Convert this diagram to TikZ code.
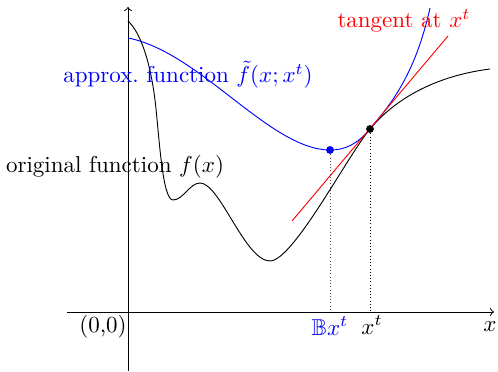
\documentclass[tikz,border=0pt]{standalone}
\usepackage{amssymb}
\begin{document}
\begin{tikzpicture}[x=0.435pt,y=-0.435pt,
  curve/.style={line width=0.4pt},
  lab/.style={inner sep=0pt}]
\useasboundingbox (0,0) rectangle (498,372);
% axes
\coordinate (xs) at (67,312);
\coordinate (xe) at (494,312);
\coordinate (ys) at (128,371);
\coordinate (ye) at (128,7);
\draw[->] (xs) -- (xe);
\draw[->] (ys) -- (ye);
% key points
\coordinate (P) at (370,129);
\coordinate (B) at (330,150);
% original function
\draw[curve,black] (128,21) .. controls (140,32) and (150,60) .. (155,100)
  .. controls (159,132) and (162,200) .. (173,200)
  .. controls (183,200) and (190,183) .. (200,183)
  .. controls (220,183) and (245,261) .. (270,261)
  .. controls (293,261) and (348,155) .. (P)
  .. controls (385,111) and (420,78) .. (490,69);
% approx function
\draw[curve,blue] (128,38) .. controls (200,52) and (270,150) .. (B)
  .. controls (345,150) and (357,144.5) .. (P)
  .. controls (390,105.2) and (415,75.5) .. (430,8);
% tangent
\coordinate (ta) at (292,221);
\coordinate (tb) at (448,36);
\draw[red] (ta) -- (tb);
% points
\node[circle,fill=black,inner sep=0pt,minimum size=3.4pt] (pt) at (P) {};
\node[circle,fill=blue,inner sep=0pt,minimum size=3.4pt] (pb) at (B) {};
\coordinate (ft) at (370,312);
\coordinate (fb) at (330,312);
\draw[densely dotted] (pt) -- (ft);
\draw[densely dotted, black!70] (pb) -- (fb);
% labels
\node[lab] (l0) at (103,327) {(0,0)};
\node[lab,blue] (lb) at (330,326) {$\mathbb{B}x^t$};
\node[lab] (lt) at (372,325) {$x^t$};
\node[lab] (lx) at (490,327) {$x$};
\node[lab,red] (ltan) at (404,21) {tangent at $x^t$};
\node[lab,blue] (lapp) at (188,75) {approx.\ function $\tilde f(x;x^t)$};
\node[lab] (lorig) at (115,167) {original function $f(x)$};
\end{tikzpicture}
\end{document}
